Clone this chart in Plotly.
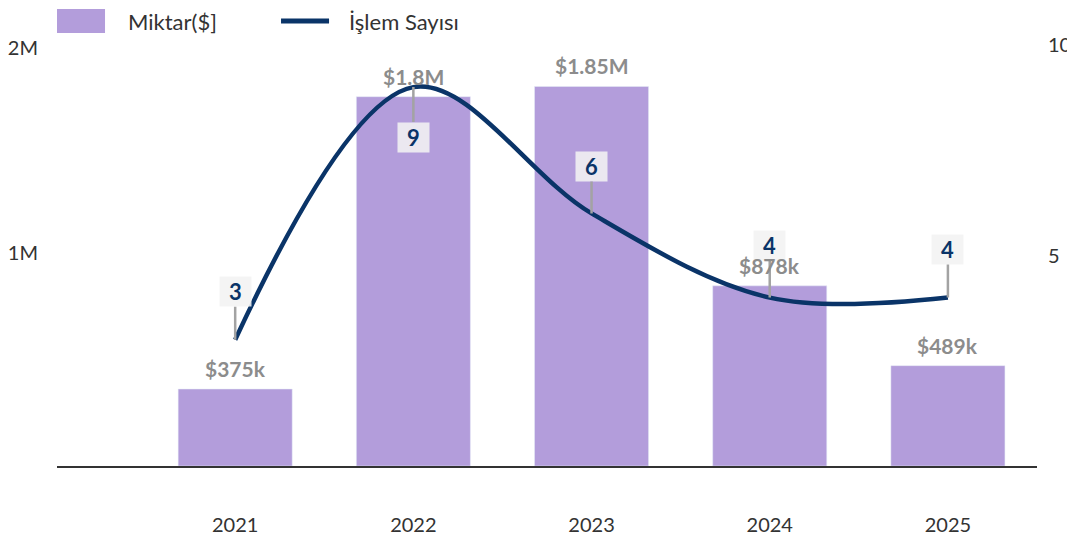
import plotly.graph_objects as go

# ---- data ----
years = ["2021", "2022", "2023", "2024", "2025"]
amounts = [375000, 1800000, 1850000, 878000, 489000]   # Miktar($)
counts = [3, 9, 6, 4, 4]                                 # İşlem Sayısı
left_tick_vals = [1000000, 2000000]
left_tick_text = ["1M", "2M"]
right_tick_vals = [5, 10]
right_tick_text = ["5", "10"]

# label offsets (pixels) for the count badges
badge_offsets = [-48, 50, -47, -52, -48]

PURPLE = "#b39ddb"
NAVY = "#0a3468"
GREY_TXT = "#8c8c8c"
DARK = "#333333"
FONT = "Lato"


def money(v):
    if v >= 1_000_000:
        s = f"{v / 1_000_000:.2f}".rstrip("0").rstrip(".")
        return f"${s}M"
    return f"${round(v / 1000)}k"


fig = go.Figure()
fig.add_trace(go.Bar(
    x=years, y=amounts, name="Miktar($]", marker_color=PURPLE,
    width=0.64, showlegend=False, hoverinfo="skip",
))
fig.add_trace(go.Scatter(
    x=years, y=counts, name="İşlem Sayısı", yaxis="y2", mode="lines",
    line=dict(color=NAVY, width=4.5, shape="spline", smoothing=1.0),
    showlegend=False, hoverinfo="skip", cliponaxis=False,
))

annotations = []
# count badges (drawn first so bar labels sit on top); category index for x
for i, (c, off) in enumerate(zip(counts, badge_offsets)):
    annotations.append(dict(
        x=i, y=c, xref="x", yref="y2", ax=0, ay=off,
        showarrow=True, arrowhead=0, arrowwidth=2.5, arrowcolor="#a3a3a3",
        standoff=0, startstandoff=0,
        text=f"<b>{c}</b>", font=dict(family=FONT, size=22, color=NAVY),
        bgcolor="rgba(242,242,242,0.88)", borderpad=4, width=23, height=21,
    ))
# bar value labels
for i, v in enumerate(amounts):
    annotations.append(dict(
        x=i, y=v, xref="x", yref="y", yanchor="bottom", yshift=6,
        showarrow=False, text=f"<b>{money(v)}</b>",
        font=dict(family=FONT, size=21, color=GREY_TXT),
    ))
# custom legend texts
annotations.append(dict(
    x=0.0714, y=1.057, xref="paper", yref="paper", xanchor="left",
    yanchor="middle", showarrow=False, text="Miktar($]", borderpad=0,
    font=dict(family=FONT, size=22, color=DARK),
))
annotations.append(dict(
    x=0.2969, y=1.057, xref="paper", yref="paper", xanchor="left",
    yanchor="middle", showarrow=False, text="İşlem Sayısı", borderpad=0,
    font=dict(family=FONT, size=22, color=DARK),
))

shapes = [
    dict(type="rect", xref="paper", yref="paper", x0=0.0, x1=0.049,
         y0=1.0285, y1=1.0855, fillcolor=PURPLE, line=dict(width=0)),
    dict(type="line", xref="paper", yref="paper", x0=0.2286, x1=0.2776,
         y0=1.057, y1=1.057, line=dict(color=NAVY, width=5)),
]

fig.update_layout(
    width=1067, height=534,
    margin=dict(l=49, r=38, t=37, b=76, autoexpand=False),
    paper_bgcolor="white", plot_bgcolor="white",
    font=dict(family=FONT, size=20, color=DARK),
    xaxis=dict(
        type="category", range=[-1.0, 4.5], showgrid=False, zeroline=False,
        showline=True, linecolor=DARK, linewidth=2, ticks="",
        tickfont=dict(family=FONT, size=20, color=DARK), ticklabelstandoff=40,
        automargin=False,
    ),
    yaxis=dict(
        range=[0, 2052000], tickvals=left_tick_vals, ticktext=left_tick_text,
        showgrid=False, zeroline=False, showline=False, ticks="",
        tickfont=dict(family=FONT, size=20, color=DARK),
        ticklabelstandoff=18, ticklabelshift=-8, automargin=False,
    ),
    yaxis2=dict(
        range=[0, 10], tickvals=right_tick_vals, ticktext=right_tick_text,
        overlaying="y", side="right", showgrid=False, zeroline=False,
        showline=False, ticks="", automargin=False,
        tickfont=dict(family=FONT, size=20, color=DARK), ticklabelstandoff=10,
    ),
    annotations=annotations,
    shapes=shapes,
    bargap=0.36,
)

fig.write_html("out.html")
